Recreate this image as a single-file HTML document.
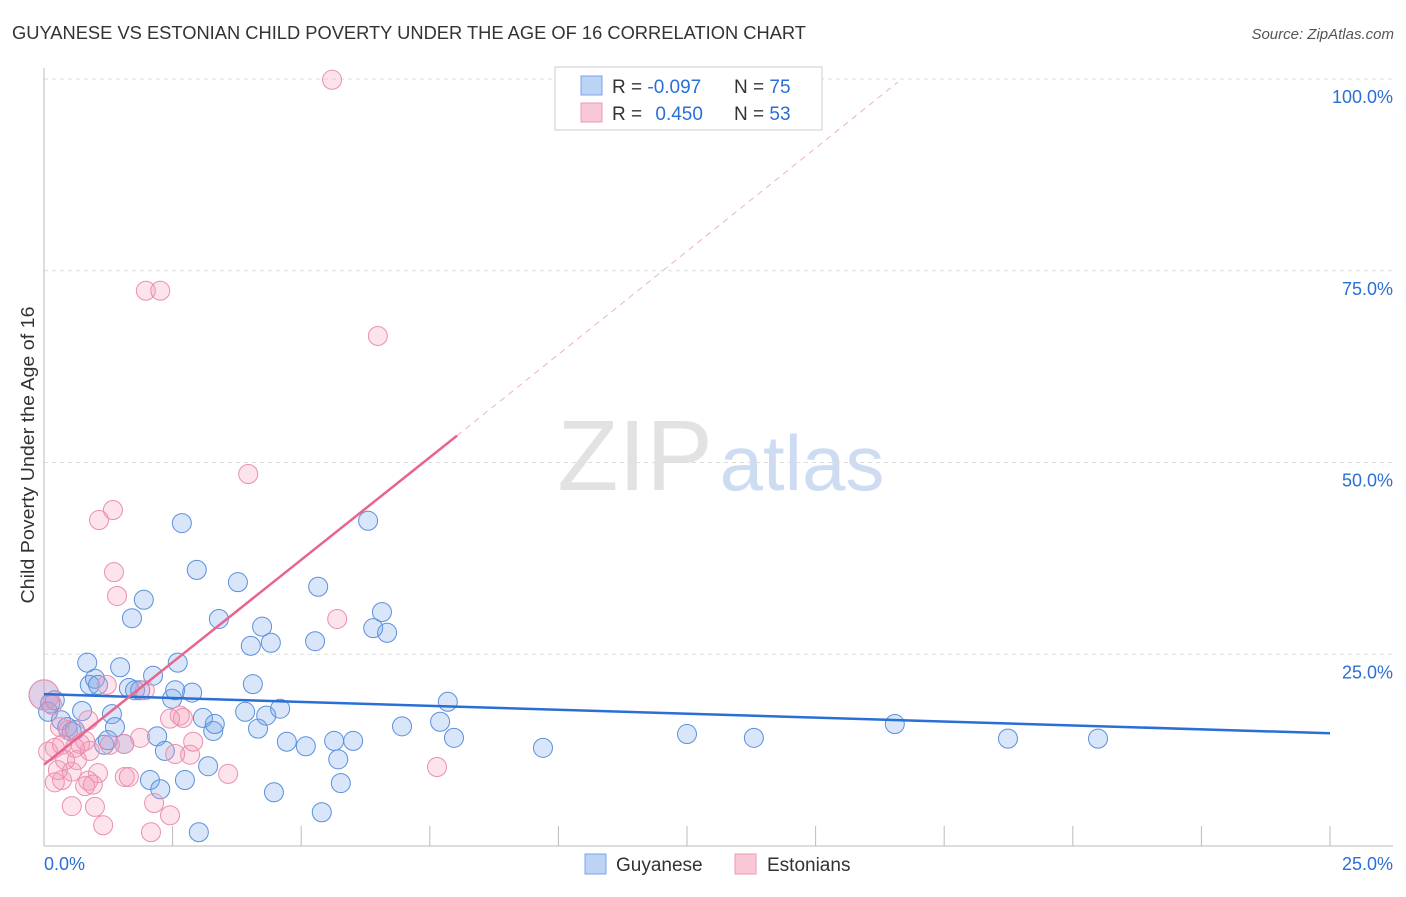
<!DOCTYPE html>
<html><head><meta charset="utf-8"><style>
body{margin:0;background:#fff;font-family:"Liberation Sans",sans-serif;}
svg text{font-family:"Liberation Sans",sans-serif;}
</style></head><body>
<svg id="chart" width="1406" height="892" viewBox="0 0 1406 892">
<text x="12" y="39" font-size="18" fill="#333" textLength="794" lengthAdjust="spacingAndGlyphs">GUYANESE VS ESTONIAN CHILD POVERTY UNDER THE AGE OF 16 CORRELATION CHART</text>
<text x="1394" y="39" font-size="15" fill="#555" font-style="italic" text-anchor="end">Source: ZipAtlas.com</text>
<text x="0" y="0" transform="translate(34,455) rotate(-90)" font-size="18" fill="#333" text-anchor="middle" textLength="297" lengthAdjust="spacingAndGlyphs">Child Poverty Under the Age of 16</text>
<g><text x="635" y="490" font-size="100" font-family="Liberation Serif" fill="#e2e2e2" text-anchor="middle">ZIP</text><text x="802" y="490" font-size="78" fill="#cddcf2" text-anchor="middle">atlas</text></g>
<g id="grid"></g><g id="axes"></g><g id="marks"></g>
<g>
<rect x="555" y="67" width="267" height="63" fill="#fff" stroke="#ccc"/>
<rect x="581" y="76" width="21" height="19" fill="#bcd3f5" stroke="#7aa5e5"/>
<rect x="581" y="103" width="21" height="19" fill="#f9c8d6" stroke="#ef9ab5"/>
<text x="612" y="93" font-size="19" fill="#333">R = <tspan fill="#2a6fd6">-0.097</tspan></text>
<text x="734" y="93" font-size="19" fill="#333">N = <tspan fill="#2a6fd6">75</tspan></text>
<text x="612" y="120" font-size="19" fill="#333">R = <tspan fill="#2a6fd6" dx="8">0.450</tspan></text>
<text x="734" y="120" font-size="19" fill="#333">N = <tspan fill="#2a6fd6">53</tspan></text>
</g>
<g>
<rect x="585" y="854" width="21" height="20" fill="#bcd3f5" stroke="#7aa5e5"/>
<text x="616" y="871" font-size="19" fill="#333">Guyanese</text>
<rect x="735" y="854" width="21" height="20" fill="#f9c8d6" stroke="#ef9ab5"/>
<text x="767" y="871" font-size="19" fill="#333">Estonians</text>
</g>
</svg>
<script>
const yTicks=[25,50,75,100];
const xTickLabels=["0.0%","25.0%"];
const blueX=[0,.12,.21,.08,.33,.45,.54,.60,.74,.84,.89,.99,1.05,1.17,1.24,1.32,1.38,1.48,1.56,1.65,1.71,1.77,1.87,1.94,2.12,2.20,2.06,2.26,2.35,2.49,2.55,2.60,2.68,2.74,2.88,2.97,3.01,3.09,3.19,3.29,3.32,3.40,3.77,3.91,4.02,4.06,4.16,4.24,4.32,4.41,4.47,4.59,4.72,5.09,5.27,5.33,5.40,5.64,5.72,5.77,6.01,6.30,6.40,6.57,6.67,6.96,7.70,7.85,7.97,9.70,12.50,13.80,16.54,18.74,20.49];
const blueY=[19.7,18.6,19.0,17.5,16.4,15.5,14.9,15.1,17.6,23.9,21.0,21.8,21.0,13.2,13.8,17.2,15.5,23.3,13.3,20.6,29.7,20.3,20.3,32.1,22.2,14.3,8.6,7.4,12.4,19.2,20.3,23.9,42.1,8.6,20.0,36.0,1.8,16.7,10.4,15.0,15.9,29.6,34.4,17.5,26.1,21.1,15.3,28.6,17.0,26.5,7.0,17.9,13.6,13.0,26.7,33.8,4.4,13.7,11.3,8.2,13.7,42.4,28.4,30.5,27.8,15.6,16.2,18.8,14.1,12.8,14.6,14.1,15.9,14.0,14.0];
const pinkX=[0,5.60,1.98,2.26,6.49,3.97,1.34,1.07,1.36,1.42,5.70,1.22,1.96,.16,.31,.47,.70,.80,.89,2.64,2.70,2.84,2.90,2.55,1.87,1.56,7.64,3.58,1.57,1.65,1.05,.86,.80,.95,.35,.27,.54,.64,.21,.54,.99,1.15,2.14,2.08,2.45,.21,.08,.35,.86,2.45,.60,1.28,.41];
const pinkY=[19.7,99.9,72.4,72.4,66.5,48.5,43.8,42.5,35.7,32.6,29.6,21.0,20.3,18.4,15.5,15.1,13.3,13.7,12.4,17.0,16.7,11.9,13.6,12.0,14.1,13.3,10.3,9.4,9.0,9.0,9.5,8.5,7.8,8.0,8.6,9.9,9.7,11.2,8.3,5.2,5.1,2.7,5.6,1.8,4.0,12.8,12.3,13.2,16.4,16.6,12.8,13.2,11.2];
const blueTrend=[19.8,14.7];
const pinkTrend=[10.6,53.5,99.6];
const pinkTrendX=[0,8.03,16.6];
const NS="http://www.w3.org/2000/svg";
const xs=v=>44+v/25*1286, ys=v=>846-v/100*767;
function mk(t,a,p){const e=document.createElementNS(NS,t);for(const k in a)e.setAttribute(k,a[k]);p.appendChild(e);return e;}
const grid=document.getElementById('grid'),axes=document.getElementById('axes'),marks=document.getElementById('marks');
yTicks.forEach(t=>{
 const l=mk('line',{x1:44,x2:1393,y1:ys(t),y2:ys(t),stroke:'#ddd','stroke-dasharray':'4,4'},grid);
 
 
 const tx=mk('text',{x:1393,y:ys(t)+24,'font-size':18,fill:'#2a6fd6','text-anchor':'end'},axes);tx.textContent=t.toFixed(1)+'%';
 
 
});
mk('line',{x1:44,x2:44,y1:68,y2:846,stroke:'#bbb'},axes);
mk('line',{x1:44,x2:1393,y1:846,y2:846,stroke:'#bbb'},axes);
for(let i=1;i<=10;i++){const x=xs(i*2.5);mk('line',{x1:x,x2:x,y1:826,y2:846,stroke:'#bbb'},axes);}
const xl0=mk('text',{x:44,y:870,'font-size':18,fill:'#2a6fd6'},axes);xl0.textContent=xTickLabels[0];


const xl1=mk('text',{x:1393,y:870,'font-size':18,fill:'#2a6fd6','text-anchor':'end'},axes);xl1.textContent=xTickLabels[1];


function dots(X,Y,fill,stroke,name){X.forEach((x,i)=>{const c=mk('circle',{cx:xs(x),cy:ys(Y[i]),r:i===0?15:9.5,fill:fill,stroke:stroke,'stroke-width':1},marks);
 
 });}
dots(blueX,blueY,'rgba(120,165,235,0.28)','#5a90dc','guyanese');
dots(pinkX,pinkY,'rgba(245,155,185,0.28)','#ea90ad','estonians');
const bl=mk('line',{x1:xs(0),y1:ys(blueTrend[0]),x2:xs(25),y2:ys(blueTrend[1]),stroke:'#2a6fd6','stroke-width':2.5},marks);


const pl=mk('line',{x1:xs(pinkTrendX[0]),y1:ys(pinkTrend[0]),x2:xs(pinkTrendX[1]),y2:ys(pinkTrend[1]),stroke:'#e8648e','stroke-width':2.5},marks);


const pd=mk('line',{x1:xs(pinkTrendX[1]),y1:ys(pinkTrend[1]),x2:xs(pinkTrendX[2]),y2:ys(pinkTrend[2]),stroke:'#f0b0c4','stroke-width':1,'stroke-dasharray':'6,5'},marks);


</script>
</body></html>
